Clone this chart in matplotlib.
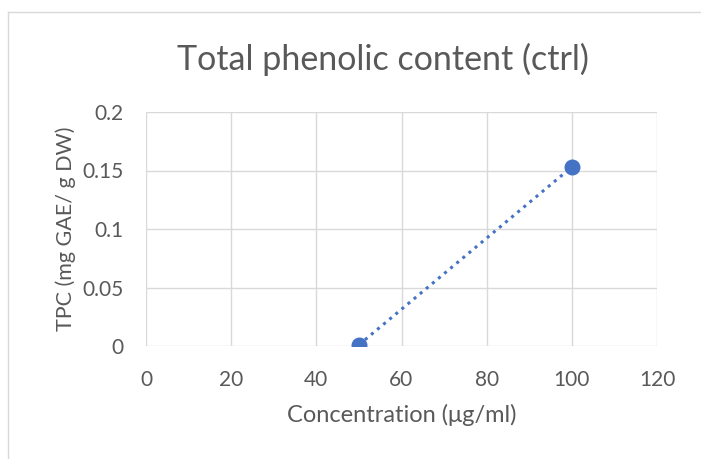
import matplotlib
matplotlib.use("Agg")
import matplotlib.pyplot as plt

# data
conc = [50, 100]
tpc = [0.001, 0.153]
x_ticks = [0, 20, 40, 60, 80, 100, 120]
y_ticks = [0, 0.05, 0.1, 0.15, 0.2]
y_tick_labels = ["0", "0.05", "0.1", "0.15", "0.2"]

plt.rcParams["font.family"] = ["Lato", "DejaVu Sans"]
text_col = "#595959"
grid_col = "#d9d9d9"
blue = "#4472c4"

W, H = 701, 459
fig = plt.figure(figsize=(W / 100, H / 100), dpi=100)

# chart area border (cropped on right/bottom in the reference)
fig.add_artist(plt.Line2D([8 / W, 1], [1 - 12 / H, 1 - 12 / H], color=grid_col, lw=1))
fig.add_artist(plt.Line2D([8 / W, 8 / W], [0, 1 - 12 / H], color=grid_col, lw=1))

ax = fig.add_axes([146 / W, 1 - 346 / H, (657 - 146) / W, (346 - 112) / H])
ax.plot(conc, tpc, color=blue, ls=(0, (1, 1.6)), lw=2.2, marker="o", ms=10.5,
        markeredgecolor=blue, zorder=3)

ax.set_xlim(0, 120)
ax.set_ylim(0, 0.2)
ax.set_xticks(x_ticks)
ax.set_yticks(y_ticks)
ax.set_yticklabels(y_tick_labels)
ax.grid(True, color=grid_col, lw=1)
ax.set_axisbelow(True)
for s in ax.spines.values():
    s.set_visible(False)
ax.tick_params(length=0, labelsize=15, colors=text_col)
ax.tick_params(axis="x", pad=17)
ax.tick_params(axis="y", pad=16)

# Excel centres the title on the whole chart area, not the plot area
ax.set_title("Total phenolic content (ctrl)", fontsize=24.5, color=text_col,
             pad=30, x=0.464)
ax.set_xlabel("Concentration (μg/ml)", fontsize=17, color=text_col, labelpad=10)
ax.set_ylabel("TPC (mg GAE/ g DW)", fontsize=15.5, color=text_col, labelpad=5)

fig.savefig("out.png", dpi=100)
